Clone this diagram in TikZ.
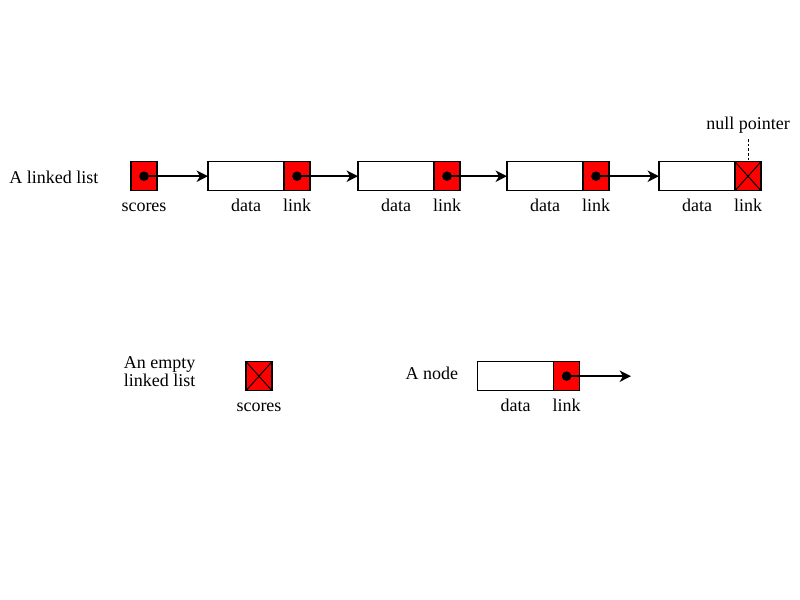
\documentclass[tikz,border=0pt]{standalone}
\usepackage{fontspec}
\setmainfont{Liberation Serif}
\usetikzlibrary{positioning,arrows.meta}

\begin{document}
\begin{tikzpicture}[x=0.75pt,y=0.75pt,yscale=-1,xscale=1,
  every node/.style={font=\fontsize{13.5}{13.5}\selectfont},
  databox/.style={draw,line width=1pt,outer sep=0pt,inner sep=0pt,minimum width=57pt,minimum height=21.75pt,anchor=west},
  linkbox/.style={draw,fill=red,line width=1pt,outer sep=0pt,inner sep=0pt,minimum width=19.5pt,minimum height=21.75pt},
  lbl/.style={inner sep=0.75pt,text height=9.5pt,text depth=0pt},
  ptr/.style={line width=1.5pt,-{Stealth[length=8.5pt,width=8.5pt,inset=2.5pt]}},
  nullx/.style={line width=0.75pt}]
\path[use as bounding box] (0,0) rectangle (800,600);

%A linked list
\node[linkbox] (sc) at (144,176.2) {};
\node[left=21pt of sc, yshift=-0.5pt] (title) {A linked list};
\node[lbl, below=5.5pt of sc] (sclbl) {scores};

\node[databox] (d1) at (208,176.2) {};
\node[linkbox, right=0pt of d1] (l1) {};
\node[databox] (d2) at (358,176.2) {};
\node[linkbox, right=0pt of d2] (l2) {};
\node[databox] (d3) at (507,176.2) {};
\node[linkbox, right=0pt of d3] (l3) {};
\node[databox] (d4) at (659,176.2) {};
\node[linkbox, right=0pt of d4] (l4) {};

\foreach \i in {1,...,4}{
  \node[lbl, below=5.5pt of d\i] (dl\i) {data};
  \node[lbl, below=5.5pt of l\i] (ll\i) {link};
}

%pointers
\fill (sc.center) circle[radius=4.8];
\draw[ptr] (sc.center) -- (d1.west);
\fill (l1.center) circle[radius=4.8];
\draw[ptr] (l1.center) -- (d2.west);
\fill (l2.center) circle[radius=4.8];
\draw[ptr] (l2.center) -- (d3.west);
\fill (l3.center) circle[radius=4.8];
\draw[ptr] (l3.center) -- (d4.west);

%null pointer
\draw[nullx] (l4.north west) -- (l4.south east) (l4.north east) -- (l4.south west);
\node[above=20pt of l4, inner sep=0.75pt] (nullp) {null pointer};
\draw[line width=0.75pt, dash pattern=on 2pt off 1.5pt, shorten <=3pt] (nullp.south) -- (l4.north);

%An empty linked list
\node[linkbox] (eb) at (259,376.2) {};
\draw[nullx] (eb.north west) -- (eb.south east) (eb.north east) -- (eb.south west);
\node[lbl, below=5.5pt of eb] (eblbl) {scores};
\node[left=37pt of eb, yshift=3.5pt, align=left, inner sep=0.75pt] (emptytxt) {An empty\\linked list};

%A node
\node[databox] (bd) at (477.6,376.2) {};
\node[linkbox, right=0pt of bd] (bl) {};
\node[left=11pt of bd, yshift=2.5pt] (nodetxt) {A node};
\node[lbl, below=5.5pt of bd] (bdl) {data};
\node[lbl, below=5.5pt of bl] (bll) {link};
\coordinate (bend) at (631,376.2);
\fill (bl.center) circle[radius=4.8];
\draw[ptr] (bl.center) -- (bend);
\end{tikzpicture}
\end{document}
